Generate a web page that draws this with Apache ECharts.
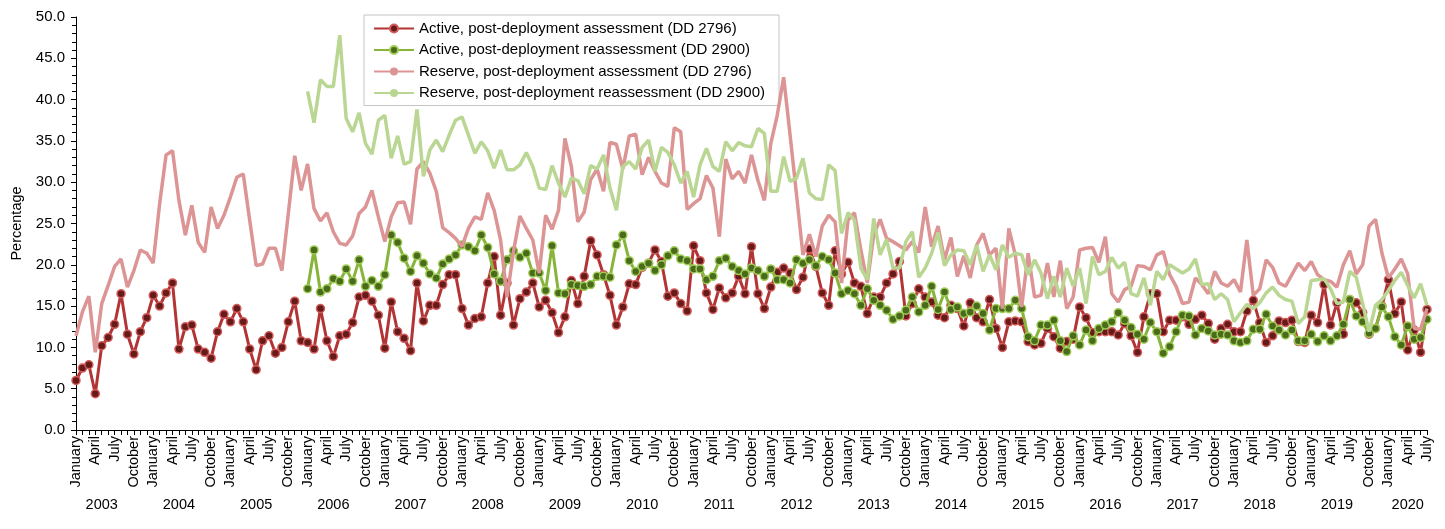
<!DOCTYPE html>
<html><head><meta charset="utf-8">
<script src="https://cdn.jsdelivr.net/npm/echarts@6/dist/echarts.min.js"></script>
<style>html,body{margin:0;padding:0;background:#fff}#c{width:1445px;height:529px}</style>
</head><body><div id="c"></div>
<script>
const monthNames = ['January','February','March','April','May','June','July','August','September','October','November','December'];
const years = [2003,2004,2005,2006,2007,2008,2009,2010,2011,2012,2013,2014,2015,2016,2017,2018,2019,2020];
const monthsInLastYear = 7;
const reassessStartIndex = 36; // January 2006

const activeAssessment = [
6.0,7.5,7.9,4.4,10.2,11.2,12.8,16.5,11.6,9.2,11.9,13.6,
16.3,15.0,16.6,17.8,9.8,12.5,12.7,9.8,9.4,8.7,11.9,14.0,
13.1,14.7,13.1,9.8,7.3,10.8,11.4,9.3,10.0,13.1,15.6,10.8,
10.6,9.8,14.7,10.8,8.9,11.4,11.6,13.0,16.1,16.3,15.6,13.9,
9.9,15.5,11.9,11.1,9.6,17.8,13.2,15.1,15.1,17.6,18.8,18.8,
14.7,12.7,13.5,13.7,17.8,21.0,13.9,17.8,12.7,15.9,16.7,17.8,
14.9,15.7,14.2,11.8,13.7,18.1,15.3,18.6,22.9,21.2,18.8,16.3,
12.7,14.9,17.7,17.6,19.7,20.2,21.8,20.4,16.2,16.6,15.3,14.4,
22.3,20.5,16.6,14.6,17.2,16.0,16.6,18.6,16.5,22.2,16.5,14.7,
17.3,19.1,19.6,19.0,17.0,18.5,21.9,19.8,16.6,15.1,21.7,18.9,
20.3,17.8,17.4,14.1,16.1,16.1,17.8,18.9,20.4,13.8,15.3,17.1,
16.1,15.5,13.9,13.6,15.1,14.7,12.6,15.4,13.6,13.1,15.8,12.3,
10.0,13.1,13.2,13.1,10.7,10.3,10.5,12.3,11.3,9.9,10.7,11.0,
14.9,13.6,11.8,11.9,11.9,11.9,11.5,12.9,11.4,9.4,13.7,16.5,
16.5,11.9,13.3,13.3,13.7,12.8,13.4,13.9,12.9,11.0,12.3,12.8,
11.9,11.9,14.4,15.7,13.0,10.6,11.4,13.2,13.0,13.3,10.7,10.6,
13.9,13.0,17.6,12.7,15.4,11.6,15.8,15.4,14.2,11.6,12.3,15.0,
18.2,14.1,15.5,9.7,12.1,9.4,14.6
];
const activeReassessment = [
17.1,21.8,16.7,17.1,18.3,18.0,19.5,18.0,20.6,17.4,18.1,17.4,
18.8,23.6,22.7,20.8,19.2,21.1,20.2,18.9,18.4,20.1,20.7,21.2,
22.4,22.2,21.7,23.6,22.1,18.9,18.0,20.6,21.7,20.9,21.4,19.0,
19.0,16.9,22.3,16.6,16.5,17.6,17.5,17.4,17.6,18.6,18.6,18.5,
22.4,23.6,20.5,19.2,19.8,20.2,19.3,20.0,21.1,21.7,20.7,20.5,
19.5,19.5,18.2,18.6,20.5,20.8,19.8,19.3,18.9,19.6,19.3,18.6,
19.5,18.2,18.2,17.8,20.6,20.2,20.6,19.9,21.0,20.6,19.0,16.5,
16.9,16.5,15.1,17.1,15.7,15.1,14.5,13.4,13.8,14.5,16.1,14.3,
15.1,17.4,14.6,16.7,14.6,14.9,14.1,14.3,15.0,14.1,12.1,14.7,
14.7,14.7,15.7,14.7,11.3,10.8,12.7,12.7,13.3,10.8,9.5,11.4,
10.3,12.1,10.8,12.3,12.7,13.1,14.2,13.3,12.4,11.6,11.0,13.0,
11.9,9.3,10.1,11.9,13.9,13.8,11.5,12.3,12.0,11.5,11.6,11.5,
10.8,10.6,10.8,12.2,12.2,14.0,12.6,12.1,11.5,12.1,10.8,10.8,
11.6,10.7,11.4,10.8,11.4,12.8,15.8,13.8,13.1,11.7,12.3,14.9,
13.7,11.3,10.3,12.6,11.0,11.2,13.4
];
const reserveAssessment = [
11.4,14.3,16.2,9.4,15.3,17.5,19.8,20.7,17.3,19.3,21.8,21.4,
20.2,27.4,33.3,33.8,27.8,23.6,27.2,22.7,21.5,27.0,24.4,26.0,
28.2,30.6,31.0,25.4,19.9,20.1,22.0,22.0,19.3,26.2,33.2,29.0,
32.2,26.8,25.3,26.3,24.0,22.6,22.4,23.5,26.2,27.0,29.0,25.8,
22.8,25.8,27.5,27.6,24.9,31.6,32.5,31.1,28.9,24.5,23.9,23.2,
22.2,24.4,25.8,25.5,28.7,26.6,23.0,16.1,21.6,25.9,24.4,23.0,
19.0,26.0,24.3,26.6,35.3,31.9,25.2,26.4,30.3,31.6,28.9,34.8,
34.6,31.6,35.6,35.8,30.9,33.0,31.3,29.9,29.5,36.6,36.1,26.7,
27.4,28.0,30.8,29.3,23.4,32.8,30.4,31.3,29.9,33.3,30.2,27.8,
34.7,38.1,42.7,35.7,28.5,21.2,23.7,21.0,24.7,26.0,25.2,17.8,
25.4,26.3,21.8,17.8,23.6,25.5,23.2,22.8,22.3,21.8,22.8,21.5,
27.0,22.2,24.7,20.6,23.3,18.6,21.1,18.4,22.4,23.8,21.2,22.0,
14.7,24.4,21.2,14.9,21.4,16.1,16.3,20.2,16.1,20.5,14.7,16.1,
21.8,22.0,22.1,20.3,23.4,16.5,15.5,17.0,17.4,19.9,19.8,19.4,
21.2,21.6,18.8,17.4,15.3,15.5,18.4,17.6,16.5,19.2,17.8,17.4,
18.2,16.7,23.0,16.3,17.1,20.6,19.7,17.8,17.4,18.8,20.2,19.3,
20.4,18.8,18.2,18.0,17.3,20.0,21.7,18.9,20.0,24.7,25.5,21.4,
18.4,19.5,20.7,18.9,12.3,12.2,14.7
];
const reserveReassessment = [
41.0,37.2,42.4,41.6,41.6,47.8,37.7,36.1,38.4,34.7,33.4,37.5,
38.1,32.9,35.6,32.2,32.5,38.8,30.7,33.9,35.1,33.7,35.7,37.5,
37.9,35.7,33.5,34.9,33.8,31.7,33.9,31.5,31.5,32.1,33.6,31.9,
29.3,29.1,32.0,29.9,28.2,30.5,30.2,28.6,32.0,31.6,33.3,29.3,
26.6,31.9,32.5,31.6,34.2,35.1,31.3,34.2,33.6,32.1,29.9,31.3,
28.2,32.1,34.1,31.9,31.3,34.9,33.8,34.8,34.4,34.3,36.5,35.9,
28.9,28.9,33.1,30.1,30.5,32.9,28.7,28.0,27.9,32.1,31.4,23.8,
26.3,25.4,19.6,18.2,25.6,21.2,23.1,19.6,19.6,22.8,24.0,18.5,
19.6,21.4,23.9,19.9,21.2,21.8,21.7,20.0,22.4,19.2,21.2,19.4,
22.4,20.9,21.4,21.2,18.8,20.6,19.0,15.9,18.6,16.1,19.6,17.4,
19.6,15.3,21.0,18.8,19.2,20.9,19.6,20.3,16.5,16.2,18.4,15.1,
19.2,18.2,20.0,19.5,19.0,19.5,20.7,17.6,17.7,15.8,16.5,15.8,
13.1,14.2,15.2,14.7,15.4,16.6,17.3,16.3,15.8,15.6,12.9,13.7,
18.1,18.2,18.3,17.1,15.3,15.5,19.2,18.5,15.3,11.9,15.1,15.8,
16.9,18.1,19.1,17.5,16.0,17.7,15.1
];

const seriesNames = [
  'Active, post-deployment assessment (DD 2796)',
  'Active, post-deployment reassessment (DD 2900)',
  'Reserve, post-deployment assessment (DD 2796)',
  'Reserve, post-deployment reassessment (DD 2900)'
];

// categories (month + year), and year label slots
const categories = [];
const yearLabelAt = {};
years.forEach((y, k) => {
  const n = (k === years.length - 1) ? monthsInLastYear : 12;
  const start = categories.length;
  for (let m = 0; m < n; m++) categories.push(monthNames[m] + ' ' + y);
  yearLabelAt[start + Math.min(4, Math.round((n - 1) / 2))] = String(y);
});
const pad = arr => new Array(reassessStartIndex).fill(null).concat(arr);

const FONT = "'Liberation Sans', Arial, sans-serif";
const chart = echarts.init(document.getElementById('c'), null, {renderer: 'canvas'});
chart.setOption({
  animation: false,
  backgroundColor: '#fff',
  textStyle: {fontFamily: FONT},
  grid: {left: 76, right: 18, top: 17, bottom: 99, containLabel: false},
  legend: {
    orient: 'vertical', left: 364, top: 15,
    itemWidth: 40, itemHeight: 10, itemGap: 4.5,
    backgroundColor: '#fff', borderColor: '#c4c4c4', borderWidth: 1,
    padding: [5, 14, 4, 9],
    textStyle: {fontSize: 15, color: '#000', fontFamily: FONT, lineHeight: 17},
    data: seriesNames
  },
  xAxis: [{
    type: 'category', data: categories, boundaryGap: false,
    axisLine: {lineStyle: {color: '#000', width: 1}},
    axisTick: {show: true, interval: 0, length: 5, lineStyle: {color: '#000'}},
    axisLabel: {interval: 2, rotate: 90, margin: 6, fontSize: 14.5, color: '#000', fontFamily: FONT,
      formatter: v => v.split(' ')[0]},
    splitLine: {show: false}
  }, {
    type: 'category', data: categories, boundaryGap: false, position: 'bottom', offset: 0,
    axisLine: {show: false}, axisTick: {show: false},
    axisLabel: {interval: 0, margin: 67, fontSize: 14.5, color: '#000', fontFamily: FONT,
      formatter: (v, i) => yearLabelAt[i] || ''},
    splitLine: {show: false}
  }],
  yAxis: {
    type: 'value', min: 0, max: 50, interval: 5,
    name: 'Percentage', nameLocation: 'middle', nameRotate: 90, nameGap: 51,
    nameTextStyle: {fontSize: 14.5, color: '#000', fontFamily: FONT},
    axisLine: {show: true, lineStyle: {color: '#000'}},
    axisTick: {show: true, length: 5, lineStyle: {color: '#000'}},
    minorTick: {show: true, splitNumber: 5, length: 4, lineStyle: {color: '#000'}},
    axisLabel: {fontSize: 15, color: '#000', margin: 11, fontFamily: FONT, formatter: v => v.toFixed(1)},
    splitLine: {show: false}
  },
  series: [
    {name: seriesNames[0], type: 'line', data: activeAssessment,
     symbol: 'circle', symbolSize: 8, showSymbol: true, showAllSymbol: true,
     lineStyle: {color: '#b23434', width: 3},
     itemStyle: {color: '#661b1b', borderColor: '#d55a5a', borderWidth: 1.5},
     emphasis: {disabled: true}, z: 2},
    {name: seriesNames[1], type: 'line', data: pad(activeReassessment),
     symbol: 'circle', symbolSize: 8, showSymbol: true, showAllSymbol: true,
     lineStyle: {color: '#87b53a', width: 3},
     itemStyle: {color: '#4a6a1c', borderColor: '#9fcd56', borderWidth: 1.5},
     emphasis: {disabled: true}, z: 3},
    {name: seriesNames[2], type: 'line', data: reserveAssessment,
     symbol: 'none', showSymbol: false,
     lineStyle: {color: '#dc9494', width: 3.5},
     itemStyle: {color: '#dc9494'},
     emphasis: {disabled: true}, z: 4},
    {name: seriesNames[3], type: 'line', data: pad(reserveReassessment),
     symbol: 'none', showSymbol: false,
     lineStyle: {color: '#bad693', width: 3.5},
     itemStyle: {color: '#bad693'},
     emphasis: {disabled: true}, z: 5}
  ]
});
</script>
</body></html>
